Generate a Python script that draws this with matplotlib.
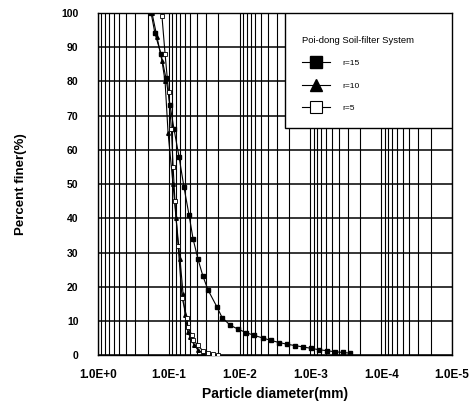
"""Grain size distribution curves, Poi-dong soil-filter system."""
import matplotlib
matplotlib.use("Agg")
import matplotlib.pyplot as plt
from matplotlib.patches import Rectangle
from matplotlib.ticker import LogLocator, NullFormatter, FixedLocator

plt.rcParams["font.family"] = ["Liberation Sans", "DejaVu Sans"]

# r=15 (filled squares)
d_r15 = [0.178, 0.157, 0.129, 0.110, 0.096, 0.0845, 0.0718, 0.061, 0.0519,
         0.0455, 0.0387, 0.0329, 0.0279, 0.0208, 0.0177, 0.0137, 0.01054,
         0.00812, 0.00626, 0.00467, 0.00360, 0.00277, 0.00214, 0.00165,
         0.00127, 0.00098, 0.00076, 0.00058, 0.00045, 0.00035, 0.000276]
p_r15 = [100, 94, 88, 81, 73, 66, 58, 49, 41,
         34, 28, 23, 19, 14, 11, 8.8, 7.6,
         6.6, 5.8, 5.0, 4.3, 3.7, 3.2, 2.8,
         2.4, 2.0, 1.6, 1.3, 1.0, 0.8, 0.6]

# r=10 (filled triangles)
d_r10 = [0.173, 0.147, 0.125, 0.113, 0.1026, 0.0873, 0.0791, 0.0695, 0.063,
         0.0591, 0.0536, 0.0502, 0.044, 0.0387, 0.033, 0.0262, 0.020]
p_r10 = [100, 93, 86, 80, 65, 50, 40, 28, 18,
         11.7, 6.7, 5.3, 3.0, 1.5, 0.6, 0.3, 0.1]

# r=5 (open squares)
d_r5 = [0.125, 0.113, 0.101, 0.092, 0.087, 0.082, 0.074, 0.065, 0.0553,
        0.054, 0.047, 0.0455, 0.0387, 0.033, 0.028, 0.024, 0.020]
p_r5 = [99, 88, 77, 66, 55, 45, 32, 16.7, 10.8,
        8.2, 5.8, 4.4, 2.9, 1.2, 0.6, 0.3, 0.1]

x_ticks = [1.0, 1e-1, 1e-2, 1e-3, 1e-4, 1e-5]
x_labels = ["1.0E+0", "1.0E-1", "1.0E-2", "1.0E-3", "1.0E-4", "1.0E-5"]
y_ticks = list(range(0, 101, 10))

fig = plt.figure(figsize=(4.69, 4.05), dpi=100)
ax = fig.add_axes([0.209, 0.123, 0.755, 0.845])

ax.set_xscale("log")
ax.set_xlim(1.0, 1e-5)
ax.set_ylim(0, 100)

ax.xaxis.set_major_locator(FixedLocator(x_ticks))
ax.xaxis.set_minor_locator(LogLocator(base=10, subs=range(2, 10), numticks=20))
ax.xaxis.set_minor_formatter(NullFormatter())
ax.set_xticks(x_ticks)
ax.set_xticklabels(x_labels, fontsize=8.5, fontweight="bold")
ax.set_yticks(y_ticks)
ax.set_yticklabels([str(v) for v in y_ticks], fontsize=7.5, fontweight="bold")
ax.tick_params(axis="both", which="both", length=0)
ax.tick_params(axis="x", pad=10)
ax.tick_params(axis="y", pad=14)

ax.grid(True, which="both", axis="x", color="black", lw=0.8)
ax.grid(True, which="major", axis="y", color="black", lw=1.1)
for s in ax.spines.values():
    s.set_linewidth(1.0)

l15, = ax.plot(d_r15, p_r15, color="black", lw=0.8, marker="s", ms=3.0,
               mfc="black", mec="black", zorder=3)
l10, = ax.plot(d_r10, p_r10, color="black", lw=0.8, marker="^", ms=2.6,
               mfc="black", mec="black", zorder=3)
l5, = ax.plot(d_r5, p_r5, color="black", lw=0.8, marker="s", ms=2.8,
              mfc="white", mec="black", mew=0.6, zorder=4)

ax.set_xlabel("Particle diameter(mm)", fontsize=10, fontweight="bold", labelpad=4)
ax.set_ylabel("Percent finer(%)", fontsize=9.5, fontweight="bold", labelpad=25)

# legend box in the top right corner
ax.add_patch(Rectangle((0.528, 0.664), 0.472, 0.336, transform=ax.transAxes,
                       facecolor="white", edgecolor="black", lw=1.0, zorder=5))
h15, = ax.plot([], [], color="black", lw=0.8, marker="s", ms=8, mfc="black")
h10, = ax.plot([], [], color="black", lw=0.8, marker="^", ms=8, mfc="black")
h5, = ax.plot([], [], color="black", lw=0.8, marker="s", ms=8, mfc="white",
              mec="black", mew=0.8)
leg = ax.legend([h15, h10, h5], ["r=15", "r=10", "r=5"],
                title="Poi-dong Soil-filter System", title_fontsize=6.8,
                fontsize=6, frameon=False, loc="upper left",
                bbox_to_anchor=(0.555, 0.955), handlelength=3.3,
                handletextpad=1.5, labelspacing=1.75, alignment="left")
leg.set_zorder(6)

fig.savefig("out.png", dpi=100)
